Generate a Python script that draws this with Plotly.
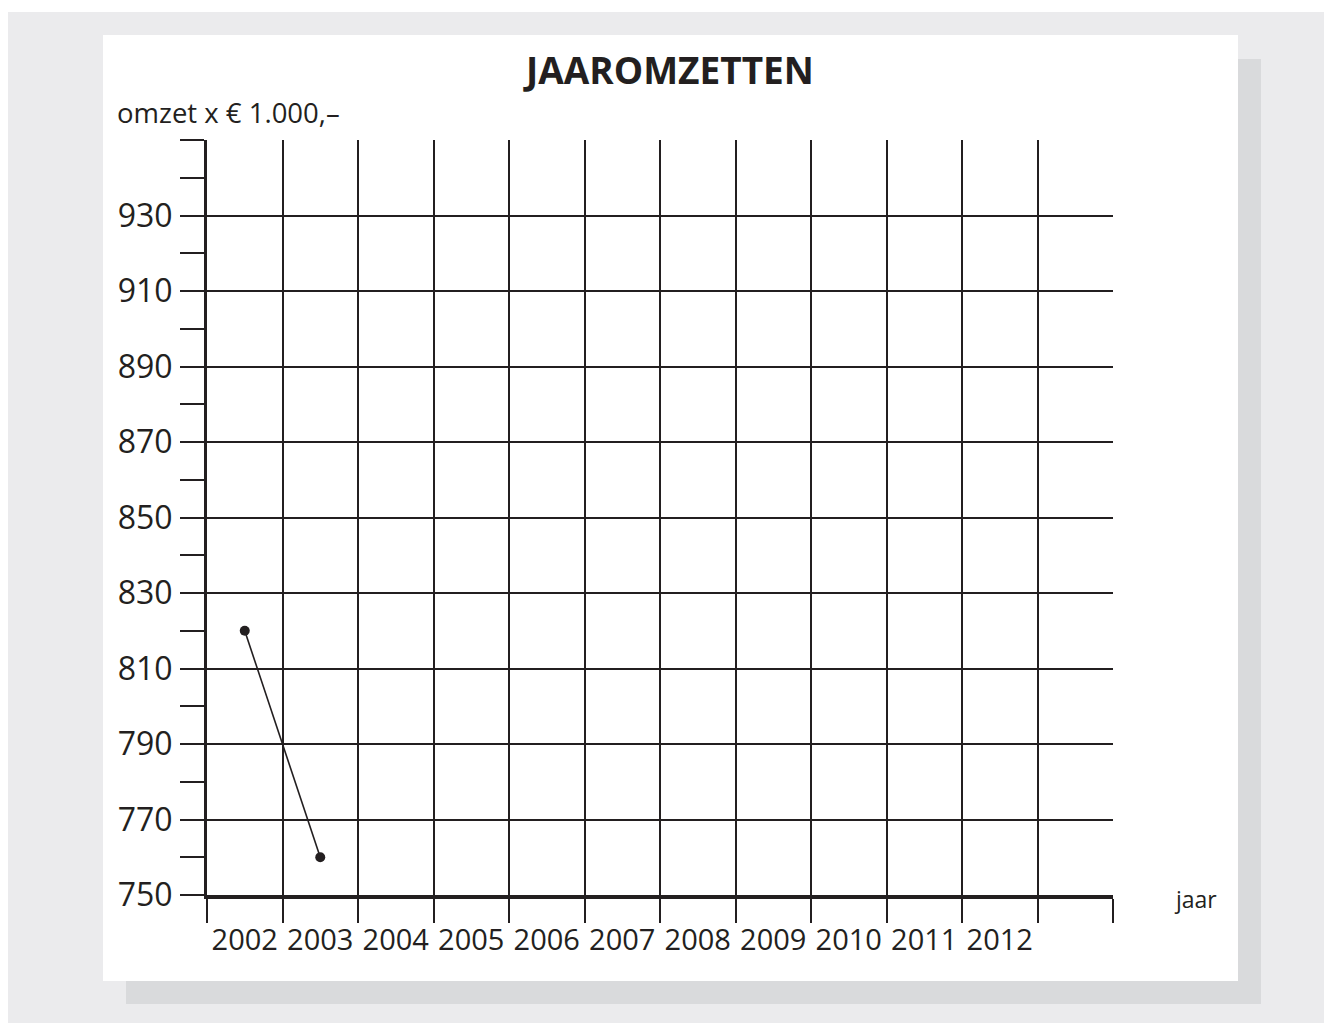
import plotly.graph_objects as go

# ---- data ----
years = [2002, 2003]
omzet = [820, 760]
year_labels = [str(y) for y in range(2002, 2013)]
year_label_pos = list(range(2002, 2013))
y_tickvals = [750, 770, 790, 810, 830, 850, 870, 890, 910, 930, 950]
y_ticktext = ["750", "770", "790", "810", "830", "850", "870", "890", "910", "930", ""]

INK = "#231f20"
FONT = "Open Sans"
W, H = 1324, 1023
L, R, T, B = 207, 1113, 140, 895  # plot area in px


def fx(px):
    return (px - L) / (R - L)


def fy(py):
    return (B - py) / (B - T)


fig = go.Figure()
fig.add_trace(go.Scatter(
    x=years, y=omzet, mode="lines+markers",
    line=dict(color=INK, width=1.6),
    marker=dict(color=INK, size=10),
    xaxis="x", yaxis="y", showlegend=False, hoverinfo="skip",
))
# invisible trace for the label axis
fig.add_trace(go.Scatter(
    x=[year_label_pos[0]], y=[omzet[0]], mode="markers",
    marker=dict(size=1, color="rgba(0,0,0,0)"),
    xaxis="x2", yaxis="y", showlegend=False, hoverinfo="skip",
))

shapes = [
    # white strips at top and left of the page
    dict(type="rect", xref="paper", yref="paper", x0=fx(-10), x1=fx(1340), y0=fy(12), y1=fy(-10),
         fillcolor="#ffffff", line=dict(width=0), layer="below"),
    dict(type="rect", xref="paper", yref="paper", x0=fx(-10), x1=fx(8), y0=fy(1040), y1=fy(-10),
         fillcolor="#ffffff", line=dict(width=0), layer="below"),
    dict(type="rect", xref="paper", yref="paper", x0=fx(126), x1=fx(1261), y0=fy(1004), y1=fy(59),
         fillcolor="#d9dadc", line=dict(width=0), layer="below"),
    dict(type="rect", xref="paper", yref="paper", x0=fx(103), x1=fx(1238), y0=fy(981), y1=fy(35),
         fillcolor="#ffffff", line=dict(width=0), layer="below"),
]

annotations = [
    dict(text="<b>JAAROMZETTEN</b>", xref="paper", yref="paper", x=fx(668), y=fy(70),
         xanchor="center", yanchor="middle", showarrow=False,
         font=dict(family=FONT, size=37, color=INK)),
    dict(text="omzet x € 1.000,–", xref="paper", yref="paper", x=fx(115), y=fy(113),
         xanchor="left", yanchor="middle", showarrow=False,
         font=dict(family=FONT, size=27.5, color=INK)),
    dict(text="jaar", xref="paper", yref="paper", x=fx(1172), y=fy(899),
         xanchor="left", yanchor="middle", showarrow=False,
         font=dict(family=FONT, size=23, color=INK)),
]

fig.update_layout(
    width=W, height=H,
    margin=dict(l=L, r=W - R, t=T, b=H - B, pad=0),
    paper_bgcolor="#ebebed", plot_bgcolor="rgba(0,0,0,0)",
    shapes=shapes, annotations=annotations,
    xaxis=dict(
        range=[2001.5, 2013.5], tickmode="linear", tick0=2001.5, dtick=1,
        showgrid=True, gridcolor=INK, gridwidth=1.5,
        ticks="outside", ticklen=24, tickwidth=1.5, tickcolor=INK,
        showticklabels=False, showline=True, linecolor=INK, linewidth=3.5,
        zeroline=False, fixedrange=True,
    ),
    xaxis2=dict(
        range=[2001.5, 2013.5], overlaying="x", anchor="y", side="bottom",
        tickmode="array", tickvals=year_label_pos, ticktext=year_labels,
        ticks="", showgrid=False, showline=False, zeroline=False,
        ticklabelstandoff=25,
        tickfont=dict(family=FONT, size=29, color=INK),
    ),
    yaxis=dict(
        range=[750, 950], tickmode="array", tickvals=y_tickvals, ticktext=y_ticktext,
        showgrid=True, gridcolor=INK, gridwidth=1.5,
        ticks="outside", ticklen=24, tickwidth=1.5, tickcolor=INK,
        minor=dict(tickmode="linear", tick0=750, dtick=10, ticks="outside", ticklen=24,
                   tickwidth=1.5, tickcolor=INK, showgrid=False),
        showline=True, linecolor=INK, linewidth=3,
        zeroline=False, ticklabelstandoff=1,
        tickfont=dict(family=FONT, size=32, color=INK),
        fixedrange=True,
    ),
)

fig.write_html("out.html", config={"displayModeBar": False},
               post_script="document.body.style.margin='0';")
